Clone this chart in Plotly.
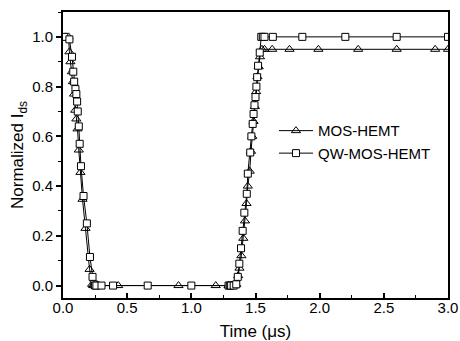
import plotly.graph_objects as go

# MOS-HEMT (triangles)
mos_t = [0.02, 0.043, 0.05, 0.058, 0.069, 0.077, 0.086, 0.095, 0.104, 0.113, 0.123, 0.136,
         0.152, 0.175, 0.207, 0.227, 0.235, 0.245, 0.26, 0.43, 0.90, 1.19, 1.29, 1.31, 1.33,
         1.35, 1.365, 1.375, 1.39, 1.405, 1.418, 1.43, 1.44, 1.455, 1.465, 1.475, 1.485,
         1.495, 1.505, 1.515, 1.525, 1.535, 1.55, 1.57, 1.63, 1.765, 1.99, 2.30, 2.60, 2.90, 3.0]
mos_i = [1.0, 1.0, 0.94, 0.90, 0.86, 0.82, 0.77, 0.705, 0.67, 0.63, 0.545, 0.455,
         0.347, 0.23, 0.065, 0.005, 0.0, 0.0, 0.0, 0.0, 0.0, 0.0, 0.0, 0.0, 0.0,
         0.005, 0.04, 0.07, 0.12, 0.19, 0.26, 0.33, 0.40, 0.46, 0.54, 0.60, 0.66,
         0.72, 0.78, 0.84, 0.88, 0.92, 0.95, 0.95, 0.95, 0.95, 0.95, 0.95, 0.95, 0.95, 0.95]

# QW-MOS-HEMT (squares)
qw_t = [0.01, 0.05, 0.07, 0.08, 0.087, 0.097, 0.104, 0.11, 0.115, 0.123, 0.13, 0.14,
        0.16, 0.186, 0.21, 0.23, 0.24, 0.25, 0.26, 0.30, 0.39, 0.66, 1.0, 1.29, 1.30,
        1.31, 1.33, 1.35, 1.362, 1.374, 1.387, 1.40, 1.413, 1.432, 1.44, 1.459, 1.468,
        1.478, 1.485, 1.492, 1.50, 1.507, 1.513, 1.52, 1.533, 1.545, 1.557, 1.57, 1.635,
        1.865, 2.20, 2.60, 3.0]
qw_i = [1.0, 0.99, 0.92, 0.86, 0.82, 0.79, 0.77, 0.74, 0.70, 0.64, 0.57, 0.48,
        0.36, 0.25, 0.115, 0.035, 0.005, 0.0, 0.0, 0.0, 0.0, 0.0, 0.0, 0.0, 0.0,
        0.0, 0.0, 0.005, 0.035, 0.088, 0.15, 0.22, 0.293, 0.369, 0.45, 0.535, 0.60,
        0.65, 0.69, 0.725, 0.758, 0.80, 0.838, 0.884, 0.937, 1.0, 1.0, 1.0, 1.0,
        1.0, 1.0, 1.0, 1.0]

x_ticks = [0.0, 0.5, 1.0, 1.5, 2.0, 2.5, 3.0]
y_ticks = [0.0, 0.2, 0.4, 0.6, 0.8, 1.0]

fig = go.Figure()
fig.add_trace(go.Scatter(
    x=mos_t, y=mos_i, name="MOS-HEMT", mode="lines+markers",
    line=dict(color="black", width=1),
    marker=dict(symbol="triangle-up-open", size=8, color="black", line=dict(width=1, color="black")),
))
fig.add_trace(go.Scatter(
    x=qw_t, y=qw_i, name="QW-MOS-HEMT", mode="lines+markers",
    line=dict(color="black", width=1),
    marker=dict(symbol="square", size=7, color="white", line=dict(width=1, color="black")),
))

fig.update_layout(
    width=460, height=341,
    margin=dict(l=63, r=12, t=12, b=43),
    paper_bgcolor="white", plot_bgcolor="white",
    font=dict(family="Liberation Sans, Arial, sans-serif", color="black", size=14),
    showlegend=True,
    legend=dict(x=0.548, y=0.642, xanchor="left", yanchor="top",
                bgcolor="rgba(0,0,0,0)", font=dict(size=15), tracegroupgap=0,
                itemwidth=34),
    xaxis=dict(
        range=[0, 3.0], tickvals=x_ticks, ticktext=[f"{v:.1f}" for v in x_ticks],
        showgrid=False, zeroline=False, showline=True, linecolor="black", linewidth=2,
        mirror=True, ticks="inside", ticklen=5, tickwidth=1.5, tickcolor="black",
        minor=dict(dtick=0.25, ticks="inside", ticklen=3, tickwidth=1, tickcolor="black", showgrid=False),
        title=dict(text="Time (\u03bcs)", font=dict(size=17), standoff=21),
        tickfont=dict(size=15), ticklabelstandoff=-5, automargin=False,
    ),
    yaxis=dict(
        range=[-0.05, 1.1], tickvals=y_ticks, ticktext=[f"{v:.1f}" for v in y_ticks],
        showgrid=False, zeroline=False, showline=True, linecolor="black", linewidth=2,
        mirror=True, ticks="outside", ticklen=5, tickwidth=1.5, tickcolor="black",
        minor=dict(dtick=0.1, tick0=0.0, ticks="outside", ticklen=3, tickwidth=1, tickcolor="black", showgrid=False),
        title=dict(text="Normalized I<sub>ds</sub>", font=dict(size=17), standoff=4),
        tickfont=dict(size=15), ticklabelstandoff=0, automargin=False,
    ),
)

fig.write_html("out.html", config={"displayModeBar": False},
               post_script="document.body.style.margin='0';")
